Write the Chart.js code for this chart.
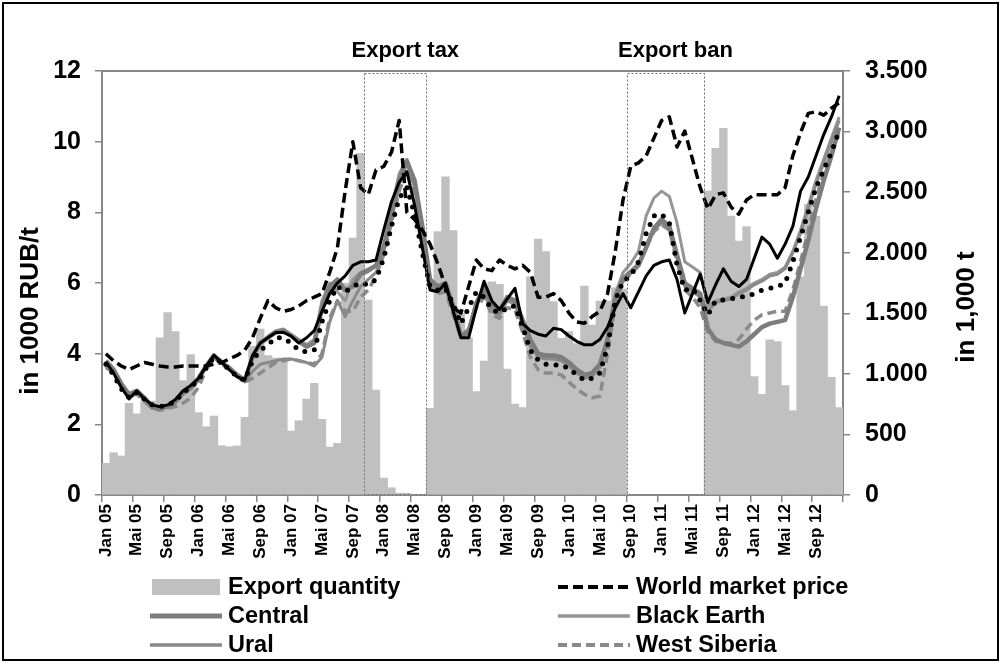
<!DOCTYPE html>
<html>
<head>
<meta charset="utf-8">
<script src="https://cdn.jsdelivr.net/npm/chart.js@4.4.1/dist/chart.umd.min.js"></script>
<style>
  html, body { margin: 0; padding: 0; background: #fff; }
  #wrap { width: 1001px; height: 664px; position: relative; }
</style>
</head>
<body>
<div id="wrap"><canvas id="myChart"></canvas></div>
<script>
// month axis (German month names, only every 4th is shown)
const monthNames = ['Jan', 'Feb', 'Mrz', 'Apr', 'Mai', 'Jun', 'Jul', 'Aug', 'Sep', 'Okt', 'Nov', 'Dez'];
const years = ['05', '06', '07', '08', '09', '10', '11', '12'];
const categories = [];
years.forEach(y => monthNames.forEach(m => categories.push(m + ' ' + y)));

// export quantity, 1,000 t (right axis)
const exportQuantity = [
  262, 349, 322, 757, 670, 770, 775, 1298, 1505, 1348, 944, 1160,
  680, 564, 652, 407, 399, 405, 641, 1230, 1370, 1150, 1130, 1120,
  528, 613, 792, 922, 625, 396, 427, 1750, 2120, 2820, 1610, 867,
  140, 60, 15, 15, 0, 0, 716, 2174, 2627, 2182, 1500, 1300,
  853, 1106, 1760, 1740, 1040, 751, 721, 1800, 2113, 2009, 1596, 1293,
  1350, 1250, 1725, 1403, 1601, 1600, 1710, 1700, 0, 0, 0, 0,
  0, 0, 0, 0, 0, 0, 2509, 2862, 3027, 2303, 2097, 2215,
  977, 831, 1280, 1266, 903, 696, 1800, 2400, 2300, 1560, 971, 721
];

// prices, 1000 RUB/t (left axis)
const worldMarketPrice = [
  4.0, 3.8, 3.65, 3.55, 3.65, 3.75, 3.7, 3.65, 3.62, 3.62, 3.65, 3.65,
  3.65, 3.65, 3.7, 3.75, 3.85, 3.95, 4.1, 4.45, 5.0, 5.5, 5.3, 5.2,
  5.25, 5.35, 5.5, 5.6, 5.7, 6.3, 7.0, 8.6, 10.0, 8.7, 8.5, 9.2,
  9.3, 9.7, 10.6, 8.0, 7.8, 7.5, 7.1, 6.55, 5.9, 5.3, 5.15, 5.9,
  6.65, 6.4, 6.35, 6.65, 6.5, 6.4, 6.5, 6.3, 5.6, 5.6, 5.7, 5.5,
  5.15, 4.9, 4.86, 5.05, 5.2, 5.7, 6.9, 8.35, 9.3, 9.4, 9.6, 10.1,
  10.6, 10.7, 9.85, 10.3, 9.5, 8.7, 8.1, 8.5, 8.55, 8.15, 7.95, 8.35,
  8.5, 8.5, 8.5, 8.5, 8.7, 9.6, 10.25, 10.8, 10.85, 10.75, 10.95, 11.1
];
const central = [
  3.8, 3.55, 3.15, 2.85, 2.95, 2.75, 2.5, 2.45, 2.5, 2.65, 2.9, 3.05,
  3.3, 3.65, 3.95, 3.75, 3.6, 3.4, 3.25, 3.9, 4.3, 4.45, 4.6, 4.65,
  4.5, 4.35, 4.2, 4.3, 5.3, 5.9, 6.1, 5.8, 5.9, 6.25, 6.35, 6.5,
  7.0, 7.9, 8.9, 9.45, 8.9, 7.6, 6.1, 5.9, 6.0, 5.35, 4.5, 4.6,
  5.4, 5.9, 5.4, 5.2, 5.6, 5.5, 4.95, 4.4, 4.0, 3.95, 3.95, 3.9,
  3.75, 3.55, 3.4, 3.45, 3.7, 4.4, 5.6, 6.1, 6.3, 6.5, 7.0, 7.55,
  7.8, 7.6, 6.8, 6.0, 5.85, 5.7, 4.7, 4.4, 4.3, 4.25, 4.2, 4.35,
  4.55, 4.75, 4.85, 4.9, 4.95, 5.6, 6.4, 7.2, 8.1, 8.9, 9.6, 10.4
];
const blackEarth = [
  3.7, 3.5, 3.1, 2.85, 2.9, 2.7, 2.5, 2.45, 2.5, 2.6, 2.85, 3.0,
  3.3, 3.65, 3.95, 3.75, 3.6, 3.4, 3.25, 3.9, 4.3, 4.5, 4.65, 4.7,
  4.55, 4.4, 4.25, 4.4, 5.5, 6.0, 5.75, 5.5, 6.1, 6.3, 6.4, 6.5,
  7.1, 8.1, 9.1, 9.5, 8.8, 7.4, 6.0, 5.85, 5.9, 5.25, 4.5, 4.7,
  5.5, 5.8, 5.3, 5.15, 5.5, 5.45, 4.9, 4.3, 3.95, 3.9, 3.9, 3.85,
  3.7, 3.5, 3.35, 3.4, 3.65, 4.5, 5.7, 6.3, 6.55, 6.9, 7.9, 8.4,
  8.6, 8.45, 7.7, 6.6, 6.45, 6.3, 5.35, 5.5, 5.55, 5.6, 5.75, 5.85,
  6.0, 6.1, 6.25, 6.3, 6.45, 6.9, 7.5, 8.2, 8.9, 9.5, 10.1, 10.7
];
const ural = [
  3.6, 3.45, 3.05, 2.8, 2.9, 2.7, 2.45, 2.45, 2.5, 2.6, 2.85, 3.0,
  3.25, 3.6, 3.9, 3.75, 3.55, 3.35, 3.2, 3.5, 3.7, 3.75, 3.8, 3.85,
  3.85, 3.8, 3.75, 3.65, 3.9, 4.9, 5.5, 5.05, 5.5, 5.9, 6.1, 6.3,
  6.9, 7.8, 8.8, 9.4, 8.7, 7.3, 6.0, 5.8, 5.85, 5.2, 4.5, 4.7,
  5.45, 5.7, 5.2, 5.1, 5.5, 5.4, 4.8, 4.2, 3.9, 3.85, 3.85, 3.8,
  3.65, 3.45, 3.3, 3.35, 3.6, 4.4, 5.6, 6.15, 6.35, 6.55, 7.05, 7.5,
  7.7, 7.5, 6.7, 5.9, 5.75, 5.6, 5.2, 5.45, 5.5, 5.55, 5.7, 5.8,
  5.95, 6.05, 6.2, 6.25, 6.4, 6.85, 7.4, 8.1, 8.8, 9.4, 10.0, 10.6
];
const westSiberia = [
  3.65, 3.45, 3.05, 2.8, 2.85, 2.65, 2.45, 2.4, 2.45, 2.5, 2.6, 2.75,
  3.05, 3.55, 3.9, 3.7, 3.55, 3.35, 3.2, 3.3, 3.45, 3.6, 3.75, 3.8,
  3.85, 3.8, 3.75, 3.7, 4.0, 5.0, 5.5, 5.2, 5.2, 5.6, 5.8, 6.2,
  6.8, 7.7, 8.6, 9.2, 8.6, 7.2, 5.95, 5.7, 5.75, 5.1, 4.45, 4.6,
  5.3, 5.6, 5.1, 5.0, 5.3, 5.25, 4.6, 3.9, 3.55, 3.45, 3.45, 3.4,
  3.2, 3.0, 2.85, 2.75, 2.8, 4.0, 5.4, 6.05, 6.25, 6.5, 7.0, 7.45,
  7.65, 7.5, 6.6, 5.8, 5.6, 5.3, 4.6, 4.35, 4.3, 4.3, 4.4, 4.7,
  4.95, 5.1, 5.15, 5.2, 5.2, 5.8, 6.6, 7.5, 8.4, 9.1, 9.7, 10.3
];
// two further regional series drawn in the chart but not named in its legend
const regionSolid = [
  3.77, 3.45, 3.05, 2.72, 2.95, 2.72, 2.55, 2.5, 2.55, 2.7, 2.95, 3.1,
  3.3, 3.65, 3.95, 3.75, 3.55, 3.35, 3.25, 3.95, 4.3, 4.45, 4.6, 4.6,
  4.5, 4.3, 4.45, 4.65, 5.2, 5.7, 6.0, 6.2, 6.5, 6.6, 6.6, 6.65,
  7.5, 8.3, 8.85, 9.15, 8.2, 7.0, 5.8, 5.75, 6.0, 5.2, 4.45, 4.45,
  5.3, 6.05, 5.5, 5.25, 5.55, 5.85, 4.85, 4.65, 4.55, 4.5, 4.72, 4.68,
  4.5, 4.35, 4.25, 4.25, 4.4, 4.75, 5.3, 5.7, 5.3, 5.75, 6.2, 6.5,
  6.6, 6.65, 6.1, 5.15, 5.7, 6.25, 5.45, 5.95, 6.4, 6.05, 5.9, 6.1,
  6.7, 7.3, 7.1, 6.7, 7.1, 7.6, 8.6, 9.0, 9.6, 10.2, 10.7, 11.3
];
const regionDotted = [
  3.7, 3.4, 3.0, 2.75, 2.9, 2.7, 2.55, 2.5, 2.55, 2.65, 2.9, 3.05,
  3.25, 3.6, 3.9, 3.75, 3.55, 3.35, 3.25, 3.8, 4.1, 4.25, 4.45, 4.45,
  4.3, 4.1, 4.05, 4.1, 4.9, 5.5, 5.9, 5.75, 5.9, 6.0, 5.95, 6.1,
  6.7, 7.6, 8.4, 8.7, 7.95, 6.85, 5.9, 5.8, 5.85, 5.4, 4.85, 5.3,
  5.75, 5.6, 5.25, 5.15, 5.3, 5.35, 4.75, 4.1, 3.82, 3.7, 3.68, 3.68,
  3.58, 3.4, 3.25, 3.3, 3.45, 4.2, 5.5, 6.05, 6.2, 6.6, 7.4, 7.9,
  7.95, 7.7, 6.5, 5.8, 5.85, 5.5, 5.1, 5.5, 5.52, 5.55, 5.6, 5.62,
  5.7, 5.8, 5.85, 5.9, 6.0, 6.6, 7.3, 8.0, 8.7, 9.2, 9.7, 10.3
];

// policy periods (first and last month inside the box)
const policyPeriods = [
  { label: 'Export tax', first: 'Nov 07', last: 'Jun 08' },
  { label: 'Export ban', first: 'Sep 10', last: 'Jun 11' }
];
const legendOrder = ['Export quantity', 'World market price', 'Central', 'Black Earth', 'Ural', 'West Siberia'];

const FONT = '"Liberation Sans", Arial, Helvetica, sans-serif';
const AXIS_GRAY = '#868686';
Chart.defaults.font.family = FONT;
Chart.defaults.font.weight = 'bold';
Chart.defaults.color = '#000';

function thousands(v) {
  if (v < 1000) return String(v);
  return Math.floor(v / 1000) + '.' + String(v % 1000).padStart(3, '0');
}

// draws frame, plot border, policy boxes, titles and the two-column legend
const decorPlugin = {
  id: 'decor',
  afterDatasetsDraw(chart) {
    const { ctx, chartArea, scales } = chart;
    const x = scales.x;
    const half = (x.getPixelForValue(1) - x.getPixelForValue(0)) / 2;
    ctx.save();
    policyPeriods.forEach(p => {
      const x0 = x.getPixelForValue(categories.indexOf(p.first)) - half;
      const x1 = x.getPixelForValue(categories.indexOf(p.last)) + half;
      ctx.strokeStyle = '#6e6e6e';
      ctx.lineWidth = 1;
      ctx.setLineDash([2, 2]);
      ctx.strokeRect(Math.round(x0) + 0.5, chartArea.top + 2.5, Math.round(x1 - x0), chartArea.bottom - chartArea.top - 3);
      ctx.setLineDash([]);
      ctx.fillStyle = '#000';
      ctx.font = 'bold 22px ' + FONT;
      ctx.textAlign = 'center';
      ctx.textBaseline = 'middle';
      ctx.fillText(p.label, (x0 + x1) / 2 + 10, 51);
    });
    ctx.restore();
  },
  afterDraw(chart) {
    const { ctx, chartArea } = chart;
    ctx.save();
    // plot area top border
    ctx.strokeStyle = AXIS_GRAY;
    ctx.lineWidth = 2;
    ctx.beginPath();
    ctx.moveTo(chartArea.left, chartArea.top);
    ctx.lineTo(chartArea.right, chartArea.top);
    ctx.stroke();
    // outer frame
    ctx.strokeStyle = '#000';
    ctx.lineWidth = 2;
    ctx.strokeRect(3, 3, 995, 657);

    // axis titles
    ctx.fillStyle = '#000';
    ctx.font = 'bold 26px ' + FONT;
    ctx.textAlign = 'center';
    ctx.textBaseline = 'middle';
    ctx.save();
    ctx.translate(31, 311);
    ctx.rotate(-Math.PI / 2);
    ctx.fillText('in 1000 RUB/t', 0, 0);
    ctx.restore();
    ctx.save();
    ctx.translate(967, 307);
    ctx.rotate(-Math.PI / 2);
    ctx.fillText('in 1,000 t', 0, 0);
    ctx.restore();

    // legend, two columns
    const colX = [150, 558];
    const rowY = [587, 616, 645];
    const swW = 72;
    legendOrder.forEach((name, i) => {
      const ds = chart.data.datasets.find(d => d.label === name);
      const lx = colX[i % 2];
      const ly = rowY[Math.floor(i / 2)];
      ctx.save();
      if (ds.type === 'bar') {
        ctx.fillStyle = ds.backgroundColor;
        ctx.fillRect(lx + 2, ly - 8, swW - 4, 16);
      } else {
        ctx.strokeStyle = ds.borderColor;
        ctx.lineWidth = ds.borderWidth + 0.5;
        ctx.setLineDash(ds.borderDash || []);
        ctx.beginPath();
        ctx.moveTo(lx, ly);
        ctx.lineTo(lx + swW, ly);
        ctx.stroke();
      }
      ctx.fillStyle = '#000';
      ctx.font = 'bold 23.5px ' + FONT;
      ctx.textAlign = 'left';
      ctx.textBaseline = 'middle';
      ctx.fillText(name, lx + swW + 6, ly + 1);
      ctx.restore();
    });
    ctx.restore();
  }
};

function lineSet(label, data, color, width, dash, order, cap) {
  return {
    type: 'line',
    label: label,
    data: data,
    yAxisID: 'y',
    borderColor: color,
    backgroundColor: color,
    borderWidth: width,
    borderDash: dash,
    borderCapStyle: cap || 'butt',
    borderJoinStyle: 'round',
    pointRadius: 0,
    tension: 0,
    fill: false,
    order: order
  };
}

new Chart(document.getElementById('myChart'), {
  type: 'bar',
  data: {
    labels: categories,
    datasets: [
      {
        type: 'bar',
        label: 'Export quantity',
        data: exportQuantity,
        yAxisID: 'y1',
        backgroundColor: '#c0c0c0',
        borderWidth: 0,
        barPercentage: 1,
        categoryPercentage: 1,
        order: 10
      },
      lineSet('Black Earth', blackEarth, '#959595', 3, [], 8),
      lineSet('Ural', ural, '#8a8a8a', 3, [], 7),
      lineSet('West Siberia', westSiberia, '#8a8a8a', 3.5, [9, 5], 6),
      lineSet('Central', central, '#7d7d7d', 4.5, [], 5),
      lineSet('Region (dotted)', regionDotted, '#000', 5, [0, 10], 4, 'round'),
      lineSet('Region (solid)', regionSolid, '#000', 3, [], 3),
      lineSet('World market price', worldMarketPrice, '#000', 3.5, [10, 5], 2)
    ]
  },
  options: {
    responsive: true,
    maintainAspectRatio: false,
    animation: false,
    layout: { padding: { top: 71, left: 0, right: 0, bottom: 0 } },
    plugins: {
      legend: { display: false },
      title: { display: false },
      tooltip: { enabled: false }
    },
    scales: {
      x: {
        type: 'category',
        offset: true,
        afterFit: s => { s.height = 169; },
        border: { display: true, color: AXIS_GRAY, width: 2 },
        grid: {
          offset: true,
          drawOnChartArea: false,
          drawTicks: true,
          tickLength: 7,
          lineWidth: 1.5,
          color: c => (c.index === undefined || c.index % 4 === 0) ? AXIS_GRAY : 'rgba(0,0,0,0)'
        },
        ticks: {
          autoSkip: false,
          minRotation: 90,
          maxRotation: 90,
          padding: 2,
          font: { size: 17, weight: 'bold' },
          callback: function (v, i) { return i % 4 === 0 ? categories[i] : ''; }
        }
      },
      y: {
        position: 'left',
        min: 0,
        max: 12,
        afterFit: s => { s.width = 102; },
        border: { display: true, color: AXIS_GRAY, width: 2 },
        grid: { drawOnChartArea: false, tickLength: 7, color: AXIS_GRAY, lineWidth: 1.5 },
        ticks: { stepSize: 2, padding: 14, font: { size: 25, weight: 'bold' } }
      },
      y1: {
        position: 'right',
        min: 0,
        max: 3500,
        afterFit: s => { s.width = 158; },
        border: { display: true, color: AXIS_GRAY, width: 2 },
        grid: { drawOnChartArea: false, tickLength: 7, color: AXIS_GRAY, lineWidth: 1.5 },
        ticks: { stepSize: 500, padding: 15, font: { size: 25, weight: 'bold' }, callback: v => thousands(v) }
      }
    }
  },
  plugins: [decorPlugin]
});
</script>
</body>
</html>
